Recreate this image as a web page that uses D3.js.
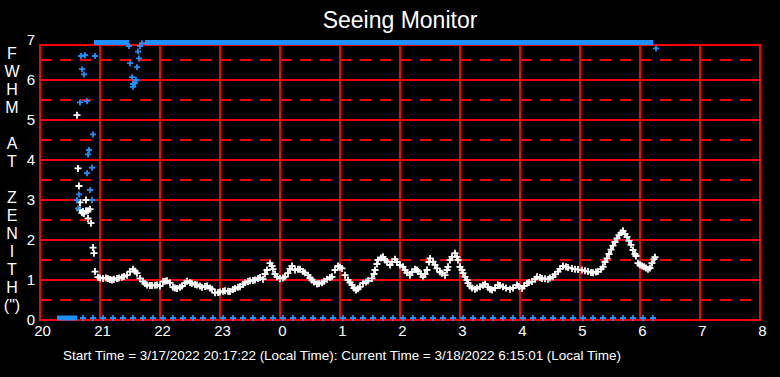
<!DOCTYPE html>
<html>
<head>
<meta charset="utf-8">
<script src="https://cdn.jsdelivr.net/npm/d3@7"></script>
<style>
html, body { margin: 0; padding: 0; background: #000; }
svg { display: block; font-family: "Liberation Sans", Arial, sans-serif; }
</style>
</head>
<body>
<div id="chart"></div>
<script>
const w = 780;
const h = 377;

// axis ticks (continuous hours, 24+ = after midnight)
const hourTicks = [20, 21, 22, 23, 24, 25, 26, 27, 28, 29, 30, 31, 32];
const hourLabels = ["20", "21", "22", "23", "0", "1", "2", "3", "4", "5", "6", "7", "8"];
const yTicks = [0, 1, 2, 3, 4, 5, 6, 7];
const solidLevels = [1, 2, 3, 4, 5, 6];
const dashedLevels = [0.5, 1.5, 2.5, 3.5, 4.5, 5.5, 6.5];
const yTop = 6.875;
const axisLetters = ["F", "W", "H", "M", "", "A", "T", "", "Z", "E", "N", "I", "T", "H", "(\")"];

// FWHM at zenith (white)
const fwhm = [
  ["20:37",5.12],["20:38",3.79],["20:39",3.35],["20:40",2.94],["20:40",2.75],["20:42",2.68],
  ["20:43",2.71],["20:44",2.66],["20:46",2.73],["20:46",3.0],["20:48",2.73],["20:48",2.54],
  ["20:50",2.77],["20:51",2.42],["20:53",1.81],["20:54",1.67],["20:55",1.21],["20:58",1.07],
  ["21:00",1.05],["21:03",1.04],["21:06",1.05],["21:08",1.04],["21:10",1.01],["21:12",1.00],
  ["21:14",1.02],["21:17",1.04],["21:19",1.05],["21:22",1.07],["21:24",1.09],["21:27",1.12],
  ["21:30",1.21],["21:33",1.27],["21:35",1.22],["21:37",1.17],["21:40",1.04],["21:43",0.96],
  ["21:45",0.91],["21:47",0.875],["21:50",0.86],["21:52",0.86],["21:55",0.87],["21:57",0.875],
  ["22:00",0.85],["22:03",0.96],["22:05",0.97],["22:07",0.98],["22:10",0.93],["22:13",0.82],
  ["22:15",0.80],["22:17",0.79],["22:20",0.82],["22:22",0.85],["22:25",0.92],["22:27",0.97],
  ["22:30",0.94],["22:32",0.92],["22:35",0.89],["22:37",0.875],["22:40",0.85],["22:42",0.82],
  ["22:45",0.84],["22:47",0.85],["22:50",0.80],["22:52",0.77],["22:55",0.68],["22:58",0.69],
  ["23:00",0.70],["23:03",0.72],["23:05",0.73],["23:08",0.72],["23:10",0.71],["23:13",0.76],
  ["23:15",0.79],["23:18",0.82],["23:20",0.83],["23:23",0.89],["23:25",0.93],["23:28",0.96],
  ["23:30",0.98],["23:33",0.99],["23:35",1.00],["23:38",1.04],["23:40",1.06],["23:43",1.02],
  ["23:45",1.15],["23:47",1.25],["23:50",1.42],["23:52",1.35],["23:53",1.27],["23:55",1.15],
  ["23:57",1.08],["0:00",1.04],["0:03",1.05],["0:05",1.08],["0:08",1.17],["0:10",1.28],
  ["0:12",1.35],["0:15",1.25],["0:18",1.27],["0:20",1.27],["0:23",1.21],["0:25",1.18],
  ["0:28",1.12],["0:30",1.05],["0:32",1.00],["0:34",0.95],["0:37",0.90],["0:39",0.91],
  ["0:42",0.93],["0:44",0.97],["0:47",1.02],["0:50",1.06],["0:52",1.08],["0:55",1.25],
  ["0:58",1.35],["1:00",1.32],["1:02",1.29],["1:05",1.12],["1:08",1.00],["1:10",0.94],
  ["1:12",0.875],["1:14",0.80],["1:16",0.75],["1:18",0.78],["1:20",0.83],["1:23",0.92],
  ["1:26",0.95],["1:28",0.98],["1:32",1.04],["1:34",1.15],["1:35",1.25],["1:37",1.40],
  ["1:38",1.50],["1:41",1.55],["1:43",1.58],["1:45",1.50],["1:47",1.46],["1:50",1.375],
  ["1:52",1.45],["1:55",1.52],["1:57",1.45],["2:00",1.375],["2:03",1.33],["2:05",1.25],
  ["2:07",1.18],["2:10",1.12],["2:12",1.20],["2:15",1.27],["2:17",1.25],["2:18",1.21],
  ["2:21",1.15],["2:23",1.08],["2:25",1.15],["2:27",1.25],["2:29",1.45],["2:30",1.54],
  ["2:33",1.46],["2:35",1.38],["2:37",1.29],["2:40",1.20],["2:42",1.17],["2:45",1.12],
  ["2:47",1.25],["2:48",1.33],["2:50",1.50],["2:52",1.58],["2:55",1.67],["2:57",1.58],
  ["2:58",1.50],["3:00",1.33],["3:02",1.25],["3:03",1.17],["3:05",1.08],["3:07",1.00],
  ["3:08",0.92],["3:10",0.85],["3:12",0.80],["3:15",0.77],["3:17",0.80],["3:20",0.83],
  ["3:23",0.87],["3:25",0.90],["3:28",0.82],["3:30",0.77],["3:32",0.75],["3:35",0.80],
  ["3:38",0.875],["3:40",0.86],["3:43",0.83],["3:46",0.80],["3:50",0.77],["3:53",0.80],
  ["3:57",0.875],["3:59",0.84],["4:02",0.79],["4:04",0.85],["4:07",0.92],["4:09",0.94],
  ["4:12",0.96],["4:15",1.02],["4:17",1.08],["4:20",1.06],["4:22",1.04],["4:25",1.03],
  ["4:28",1.02],["4:30",1.05],["4:33",1.08],["4:35",1.14],["4:38",1.21],["4:40",1.28],
  ["4:43",1.35],["4:46",1.33],["4:48",1.31],["4:52",1.29],["4:55",1.27],["4:58",1.26],
  ["5:02",1.25],["5:05",1.23],["5:08",1.21],["5:11",1.19],["5:13",1.18],["5:16",1.20],
  ["5:18",1.21],["5:21",1.27],["5:23",1.33],["5:25",1.45],["5:27",1.54],["5:29",1.65],
  ["5:31",1.76],["5:33",1.86],["5:35",1.95],["5:37",2.04],["5:39",2.12],["5:41",2.18],
  ["5:43",2.23],["5:45",2.15],["5:47",2.08],["5:49",1.98],["5:51",1.88],["5:53",1.75],
  ["5:55",1.65],["5:56",1.60],["5:58",1.42],["6:00",1.38],["6:02",1.35],["6:04",1.33],
  ["6:06",1.30],["6:08",1.27],["6:10",1.30],["6:12",1.42],["6:14",1.52],["6:15",1.57]
];

// raw (uncorrected) measurements, blue
const rawPoints = [
  ["20:37",3.0],["20:38",2.79],["20:39",3.14],["20:40",5.44],["20:41",6.6],["20:42",6.27],
  ["20:44",6.14],["20:45",6.62],["20:47",5.47],["20:47",3.67],["20:48",4.14],["20:49",4.25],
  ["20:50",3.25],["20:52",3.0],["20:52",3.81],["20:53",4.64],["20:55",6.6],["21:29",6.85],
  ["21:30",6.42],["21:32",6.07],["21:33",5.83],["21:33",5.9],["21:35",5.92],["21:36",6.0],
  ["21:37",6.32],["21:38",6.71],["21:39",6.54],["21:40",6.85],["21:42",6.92],["6:16",6.79]
];
// raw measurements reading zero (every 10 minutes)
const rawZero = [
  "20:43","20:53","21:03","21:13","21:23","21:33","21:43","21:53","22:03","22:13","22:23","22:33",
  "22:43","22:53","23:03","23:13","23:23","23:33","23:43","23:53","0:03","0:13","0:23","0:33",
  "0:43","0:53","1:03","1:13","1:23","1:33","1:43","1:53","2:03","2:13","2:23","2:33",
  "2:43","2:53","3:03","3:13","3:23","3:33","3:43","3:53","4:03","4:13","4:23","4:33",
  "4:43","4:53","5:03","5:13","5:23","5:33","5:43","5:53","6:03","6:13"
];
// continuous runs of raw samples off the scale (top) or at zero (bottom)
const rawHighRuns = [["20:54", "21:29"], ["21:45", "6:13"]];
const rawLowRuns = [["20:17", "20:37"]];

const toHours = t => {
  const [hh, mm] = t.split(":").map(Number);
  return (hh < 12 ? hh + 24 : hh) + mm / 60;
};

const xScale = d3.scaleLinear().domain([20, 32]).range([40, 760]);
const yScale = d3.scaleLinear().domain([0, 7]).range([320, 40]);

const svg = d3.select("#chart").append("svg")
  .attr("width", w)
  .attr("height", h);

svg.append("rect").attr("width", w).attr("height", h).attr("fill", "#000");

svg.append("text")
  .attr("x", 400)
  .attr("y", 28)
  .attr("text-anchor", "middle")
  .attr("fill", "#fff")
  .style("font-size", "23px")
  .text("Seeing Monitor");

// grid
const grid = svg.append("g").attr("stroke", "#ff0000").attr("stroke-width", 2);

grid.selectAll("line.dash")
  .data(dashedLevels)
  .enter()
  .append("line")
  .attr("class", "dash")
  .attr("x1", xScale(20))
  .attr("x2", xScale(32))
  .attr("y1", d => yScale(d))
  .attr("y2", d => yScale(d))
  .attr("stroke-dasharray", "11,9");

grid.selectAll("line.solid")
  .data(solidLevels.concat([0, yTop]))
  .enter()
  .append("line")
  .attr("class", "solid")
  .attr("x1", xScale(20) - 1)
  .attr("x2", xScale(32) + 1)
  .attr("y1", d => yScale(d))
  .attr("y2", d => yScale(d));

grid.selectAll("line.vert")
  .data(hourTicks)
  .enter()
  .append("line")
  .attr("class", "vert")
  .attr("x1", d => xScale(d))
  .attr("x2", d => xScale(d))
  .attr("y1", yScale(0))
  .attr("y2", yScale(yTop));

// axes
const xAxis = d3.axisBottom(xScale)
  .tickValues(hourTicks)
  .tickFormat((d, i) => hourLabels[i])
  .tickSize(0)
  .tickPadding(5);

svg.append("g")
  .attr("transform", "translate(0," + yScale(0) + ")")
  .call(xAxis)
  .call(g => g.select(".domain").remove())
  .selectAll("text")
  .attr("x", 2)
  .attr("fill", "#fff")
  .style("font-size", "15px")
  .style("font-family", "'Liberation Sans', Arial, sans-serif");

const yAxis = d3.axisLeft(yScale)
  .tickValues(yTicks)
  .tickFormat(d3.format("d"))
  .tickSize(0)
  .tickPadding(5);

svg.append("g")
  .attr("transform", "translate(" + xScale(20) + ",0)")
  .call(yAxis)
  .call(g => g.select(".domain").remove())
  .selectAll("text")
  .attr("fill", "#fff")
  .style("font-size", "15px")
  .style("font-family", "'Liberation Sans', Arial, sans-serif");

svg.append("g")
  .selectAll("text")
  .data(axisLetters)
  .enter()
  .append("text")
  .attr("x", 12)
  .attr("y", (d, i) => 59 + i * 18)
  .attr("text-anchor", "middle")
  .attr("fill", "#fff")
  .style("font-size", "16px")
  .text(d => d);

// markers
const cross = s => "M" + (-s) + ",0H" + s + "M0," + (-s) + "V" + s;

svg.append("g")
  .selectAll("path")
  .data(fwhm)
  .enter()
  .append("path")
  .attr("d", cross(3.5))
  .attr("transform", d => "translate(" + xScale(toHours(d[0])) + "," + yScale(d[1]) + ")")
  .attr("stroke", "#fff")
  .attr("stroke-width", 1.8)
  .attr("fill", "none");

const blue = "#1e90ff";
const rawG = svg.append("g");

rawG.selectAll("path.pt")
  .data(rawPoints)
  .enter()
  .append("path")
  .attr("class", "pt")
  .attr("d", cross(3))
  .attr("transform", d => "translate(" + xScale(toHours(d[0])) + "," + yScale(d[1]) + ")")
  .attr("stroke", blue)
  .attr("stroke-width", 1.8)
  .attr("fill", "none");

rawG.selectAll("path.zero")
  .data(rawZero)
  .enter()
  .append("path")
  .attr("class", "zero")
  .attr("d", cross(3))
  .attr("transform", d => "translate(" + xScale(toHours(d)) + "," + (yScale(0) - 2) + ")")
  .attr("stroke", blue)
  .attr("stroke-width", 1.8)
  .attr("fill", "none");

rawG.selectAll("rect.high")
  .data(rawHighRuns)
  .enter()
  .append("rect")
  .attr("class", "high")
  .attr("x", d => xScale(toHours(d[0])))
  .attr("width", d => xScale(toHours(d[1])) - xScale(toHours(d[0])))
  .attr("y", yScale(yTop) - 5)
  .attr("height", 5)
  .attr("fill", blue);

rawG.selectAll("rect.low")
  .data(rawLowRuns)
  .enter()
  .append("rect")
  .attr("class", "low")
  .attr("x", d => xScale(toHours(d[0])))
  .attr("width", d => xScale(toHours(d[1])) - xScale(toHours(d[0])))
  .attr("y", yScale(0) - 4.5)
  .attr("height", 5)
  .attr("fill", blue);

svg.append("text")
  .attr("x", 342)
  .attr("y", 359.5)
  .attr("text-anchor", "middle")
  .attr("fill", "#fff")
  .attr("textLength", 558)
  .attr("lengthAdjust", "spacingAndGlyphs")
  .style("font-size", "13px")
  .text("Start Time = 3/17/2022 20:17:22 (Local Time): Current Time = 3/18/2022 6:15:01 (Local Time)");
</script>
</body>
</html>
